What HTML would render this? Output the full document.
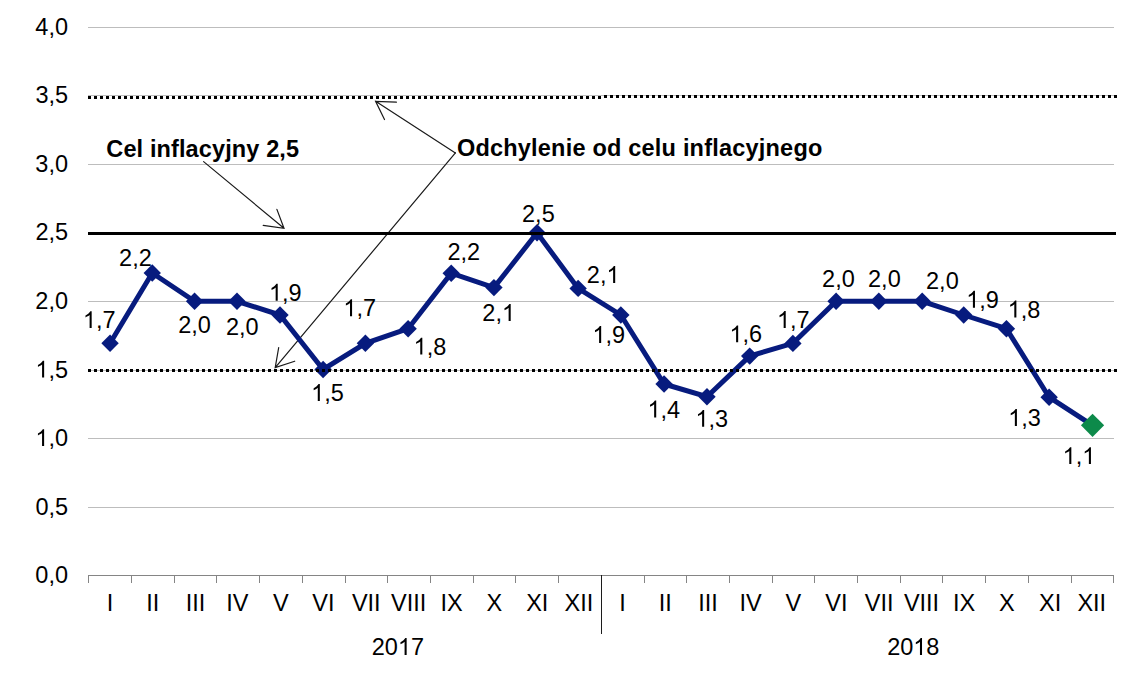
<!DOCTYPE html><html><head><meta charset="utf-8"><title>Chart</title>
<style>html,body{margin:0;padding:0;background:#fff;}body{width:1136px;height:675px;overflow:hidden;}svg{display:block;}text{font-family:"Liberation Sans",sans-serif;fill:#000;}</style></head><body>
<svg width="1136" height="675" viewBox="0 0 1136 675">
<rect width="1136" height="675" fill="#fff"/>
<g fill="#bdbdbd" shape-rendering="crispEdges">
<rect x="88" y="27" width="1026" height="1"/>
<rect x="88" y="95" width="1026" height="1"/>
<rect x="88" y="164" width="1026" height="1"/>
<rect x="88" y="301" width="1026" height="1"/>
<rect x="88" y="370" width="1026" height="1"/>
<rect x="88" y="438" width="1026" height="1"/>
<rect x="88" y="507" width="1026" height="1"/>
</g>
<g fill="#858585" shape-rendering="crispEdges">
<rect x="88" y="575" width="1026" height="1"/>
<rect x="88" y="575" width="1" height="8"/>
<rect x="131" y="575" width="1" height="8"/>
<rect x="174" y="575" width="1" height="8"/>
<rect x="216" y="575" width="1" height="8"/>
<rect x="259" y="575" width="1" height="8"/>
<rect x="302" y="575" width="1" height="8"/>
<rect x="345" y="575" width="1" height="8"/>
<rect x="387" y="575" width="1" height="8"/>
<rect x="430" y="575" width="1" height="8"/>
<rect x="473" y="575" width="1" height="8"/>
<rect x="515" y="575" width="1" height="8"/>
<rect x="558" y="575" width="1" height="8"/>
<rect x="644" y="575" width="1" height="8"/>
<rect x="686" y="575" width="1" height="8"/>
<rect x="729" y="575" width="1" height="8"/>
<rect x="772" y="575" width="1" height="8"/>
<rect x="814" y="575" width="1" height="8"/>
<rect x="857" y="575" width="1" height="8"/>
<rect x="900" y="575" width="1" height="8"/>
<rect x="942" y="575" width="1" height="8"/>
<rect x="985" y="575" width="1" height="8"/>
<rect x="1028" y="575" width="1" height="8"/>
<rect x="1071" y="575" width="1" height="8"/>
<rect x="1113" y="575" width="1" height="8"/>
</g>
<rect x="601" y="575" width="1" height="58.6" fill="#1c1c1c" shape-rendering="crispEdges"/>
<g stroke="#1a1a1a" stroke-width="1.2" fill="none" stroke-linecap="round" stroke-linejoin="miter">
<path d="M203.6 161.6 L284 228.3 M276.9 209.4 L284 228.3 L263.2 225.4"/>
<path d="M455.4 152.9 L375.6 101.3 M396.4 102.2 L375.6 101.3 L384.5 119.5"/>
<path d="M455.4 152.9 L275.2 367.6 M278.7 347.5 L275.2 367.6 L294.7 361.2"/>
</g>
<polyline points="110.05,343.30 152.26,273.00 194.57,301.30 236.98,301.30 279.99,315.00 323.10,369.50 365.40,343.30 408.11,328.70 451.22,273.20 493.93,287.60 537.04,232.80 578.15,288.40 620.85,315.00 664.06,384.00 706.97,396.70 749.68,356.10 792.89,343.40 836.10,301.30 878.80,301.30 922.21,301.30 963.72,315.00 1006.43,328.70 1049.14,397.20 1092.55,425.30" fill="none" stroke="#071b7e" stroke-width="5" stroke-linejoin="miter" stroke-linecap="butt"/>
<path d="M110.05 334.60 L118.75 343.30 L110.05 352.00 L101.35 343.30Z" fill="#071b7e"/>
<path d="M152.26 264.30 L160.96 273.00 L152.26 281.70 L143.56 273.00Z" fill="#071b7e"/>
<path d="M194.57 292.60 L203.27 301.30 L194.57 310.00 L185.87 301.30Z" fill="#071b7e"/>
<path d="M236.98 292.60 L245.68 301.30 L236.98 310.00 L228.28 301.30Z" fill="#071b7e"/>
<path d="M279.99 306.30 L288.69 315.00 L279.99 323.70 L271.29 315.00Z" fill="#071b7e"/>
<path d="M323.10 360.80 L331.80 369.50 L323.10 378.20 L314.40 369.50Z" fill="#071b7e"/>
<path d="M365.40 334.60 L374.10 343.30 L365.40 352.00 L356.70 343.30Z" fill="#071b7e"/>
<path d="M408.11 320.00 L416.81 328.70 L408.11 337.40 L399.41 328.70Z" fill="#071b7e"/>
<path d="M451.22 264.50 L459.92 273.20 L451.22 281.90 L442.52 273.20Z" fill="#071b7e"/>
<path d="M493.93 278.90 L502.63 287.60 L493.93 296.30 L485.23 287.60Z" fill="#071b7e"/>
<path d="M537.04 224.10 L545.74 232.80 L537.04 241.50 L528.34 232.80Z" fill="#071b7e"/>
<path d="M578.15 279.70 L586.85 288.40 L578.15 297.10 L569.45 288.40Z" fill="#071b7e"/>
<path d="M620.85 306.30 L629.55 315.00 L620.85 323.70 L612.15 315.00Z" fill="#071b7e"/>
<path d="M664.06 375.30 L672.76 384.00 L664.06 392.70 L655.36 384.00Z" fill="#071b7e"/>
<path d="M706.97 388.00 L715.67 396.70 L706.97 405.40 L698.27 396.70Z" fill="#071b7e"/>
<path d="M749.68 347.40 L758.38 356.10 L749.68 364.80 L740.98 356.10Z" fill="#071b7e"/>
<path d="M792.89 334.70 L801.59 343.40 L792.89 352.10 L784.19 343.40Z" fill="#071b7e"/>
<path d="M836.10 292.60 L844.80 301.30 L836.10 310.00 L827.40 301.30Z" fill="#071b7e"/>
<path d="M878.80 292.60 L887.50 301.30 L878.80 310.00 L870.10 301.30Z" fill="#071b7e"/>
<path d="M922.21 292.60 L930.91 301.30 L922.21 310.00 L913.51 301.30Z" fill="#071b7e"/>
<path d="M963.72 306.30 L972.42 315.00 L963.72 323.70 L955.02 315.00Z" fill="#071b7e"/>
<path d="M1006.43 320.00 L1015.13 328.70 L1006.43 337.40 L997.73 328.70Z" fill="#071b7e"/>
<path d="M1049.14 388.50 L1057.84 397.20 L1049.14 405.90 L1040.44 397.20Z" fill="#071b7e"/>
<path d="M1092.55 413.70 L1104.15 425.30 L1092.55 436.90 L1080.95 425.30Z" fill="#0d8a4a"/>
<g shape-rendering="crispEdges" stroke="#000" stroke-width="3" fill="none">
<line x1="88" y1="97.5" x2="604" y2="97.5" stroke-dasharray="3 3"/>
<line x1="604" y1="96.5" x2="1117" y2="96.5" stroke-dasharray="3 3"/>
<line x1="88" y1="370.5" x2="1117" y2="370.5" stroke-dasharray="3 3"/>
<line x1="88" y1="233.5" x2="1116" y2="233.5"/>
</g>
<g font-size="23.5">
<path transform="translate(82.92 328.10) scale(0.01147 -0.01147)" d="M763 0L583 0L583 1147Q518 1085 412.5 1023Q307 961 223 930L223 1104Q374 1175 487 1276Q600 1377 647 1472L763 1472Z"/><text x="95.99" y="328.10">,7</text>
<text x="119.11" y="266.00">2,2</text>
<text x="178.20" y="332.70">2,0</text>
<text x="226.00" y="334.70">2,0</text>
<path transform="translate(268.97 300.70) scale(0.01147 -0.01147)" d="M763 0L583 0L583 1147Q518 1085 412.5 1023Q307 961 223 930L223 1104Q374 1175 487 1276Q600 1377 647 1472L763 1472Z"/><text x="282.04" y="300.70">,9</text>
<path transform="translate(311.09 401.00) scale(0.01147 -0.01147)" d="M763 0L583 0L583 1147Q518 1085 412.5 1023Q307 961 223 930L223 1104Q374 1175 487 1276Q600 1377 647 1472L763 1472Z"/><text x="324.16" y="401.00">,5</text>
<path transform="translate(343.32 316.20) scale(0.01147 -0.01147)" d="M763 0L583 0L583 1147Q518 1085 412.5 1023Q307 961 223 930L223 1104Q374 1175 487 1276Q600 1377 647 1472L763 1472Z"/><text x="356.39" y="316.20">,7</text>
<path transform="translate(413.57 354.60) scale(0.01147 -0.01147)" d="M763 0L583 0L583 1147Q518 1085 412.5 1023Q307 961 223 930L223 1104Q374 1175 487 1276Q600 1377 647 1472L763 1472Z"/><text x="426.64" y="354.60">,8</text>
<text x="447.46" y="259.80">2,2</text>
<text x="482.34" y="320.90">2,</text><path transform="translate(501.94 320.90) scale(0.01147 -0.01147)" d="M763 0L583 0L583 1147Q518 1085 412.5 1023Q307 961 223 930L223 1104Q374 1175 487 1276Q600 1377 647 1472L763 1472Z"/>
<text x="522.06" y="222.10">2,5</text>
<text x="586.84" y="282.90">2,</text><path transform="translate(606.44 282.90) scale(0.01147 -0.01147)" d="M763 0L583 0L583 1147Q518 1085 412.5 1023Q307 961 223 930L223 1104Q374 1175 487 1276Q600 1377 647 1472L763 1472Z"/>
<path transform="translate(592.42 342.90) scale(0.01147 -0.01147)" d="M763 0L583 0L583 1147Q518 1085 412.5 1023Q307 961 223 930L223 1104Q374 1175 487 1276Q600 1377 647 1472L763 1472Z"/><text x="605.49" y="342.90">,9</text>
<path transform="translate(647.46 417.50) scale(0.01147 -0.01147)" d="M763 0L583 0L583 1147Q518 1085 412.5 1023Q307 961 223 930L223 1104Q374 1175 487 1276Q600 1377 647 1472L763 1472Z"/><text x="660.53" y="417.50">,4</text>
<path transform="translate(695.42 426.80) scale(0.01147 -0.01147)" d="M763 0L583 0L583 1147Q518 1085 412.5 1023Q307 961 223 930L223 1104Q374 1175 487 1276Q600 1377 647 1472L763 1472Z"/><text x="708.49" y="426.80">,3</text>
<path transform="translate(729.42 342.30) scale(0.01147 -0.01147)" d="M763 0L583 0L583 1147Q518 1085 412.5 1023Q307 961 223 930L223 1104Q374 1175 487 1276Q600 1377 647 1472L763 1472Z"/><text x="742.49" y="342.30">,6</text>
<path transform="translate(776.97 327.90) scale(0.01147 -0.01147)" d="M763 0L583 0L583 1147Q518 1085 412.5 1023Q307 961 223 930L223 1104Q374 1175 487 1276Q600 1377 647 1472L763 1472Z"/><text x="790.04" y="327.90">,7</text>
<text x="822.10" y="286.60">2,0</text>
<text x="868.05" y="286.60">2,0</text>
<text x="926.05" y="289.40">2,0</text>
<path transform="translate(966.22 307.70) scale(0.01147 -0.01147)" d="M763 0L583 0L583 1147Q518 1085 412.5 1023Q307 961 223 930L223 1104Q374 1175 487 1276Q600 1377 647 1472L763 1472Z"/><text x="979.29" y="307.70">,9</text>
<path transform="translate(1007.62 317.50) scale(0.01147 -0.01147)" d="M763 0L583 0L583 1147Q518 1085 412.5 1023Q307 961 223 930L223 1104Q374 1175 487 1276Q600 1377 647 1472L763 1472Z"/><text x="1020.69" y="317.50">,8</text>
<path transform="translate(1008.17 425.90) scale(0.01147 -0.01147)" d="M763 0L583 0L583 1147Q518 1085 412.5 1023Q307 961 223 930L223 1104Q374 1175 487 1276Q600 1377 647 1472L763 1472Z"/><text x="1021.24" y="425.90">,3</text>
<path transform="translate(1062.59 464.10) scale(0.01147 -0.01147)" d="M763 0L583 0L583 1147Q518 1085 412.5 1023Q307 961 223 930L223 1104Q374 1175 487 1276Q600 1377 647 1472L763 1472Z"/><text x="1075.66" y="464.10">,</text><path transform="translate(1082.19 464.10) scale(0.01147 -0.01147)" d="M763 0L583 0L583 1147Q518 1085 412.5 1023Q307 961 223 930L223 1104Q374 1175 487 1276Q600 1377 647 1472L763 1472Z"/>
</g>
<g font-size="23.5">
<text x="35.37" y="583.10">0,0</text>
<text x="35.39" y="514.60">0,5</text>
<path transform="translate(35.37 446.10) scale(0.01147 -0.01147)" d="M763 0L583 0L583 1147Q518 1085 412.5 1023Q307 961 223 930L223 1104Q374 1175 487 1276Q600 1377 647 1472L763 1472Z"/><text x="48.44" y="446.10">,0</text>
<path transform="translate(35.39 377.60) scale(0.01147 -0.01147)" d="M763 0L583 0L583 1147Q518 1085 412.5 1023Q307 961 223 930L223 1104Q374 1175 487 1276Q600 1377 647 1472L763 1472Z"/><text x="48.46" y="377.60">,5</text>
<text x="35.37" y="309.10">2,0</text>
<text x="35.39" y="239.90">2,5</text>
<text x="35.37" y="172.10">3,0</text>
<text x="35.39" y="102.60">3,5</text>
<text x="35.37" y="35.10">4,0</text>
</g>
<g font-size="23.5">
<text x="106.87" y="610.8">I</text>
<text x="146.24" y="610.8">II</text>
<text x="185.79" y="610.8">III</text>
<text x="226.18" y="610.8">IV</text>
<text x="272.90" y="610.8">V</text>
<text x="312.28" y="610.8">VI</text>
<text x="351.90" y="610.8">VII</text>
<text x="391.00" y="610.8">VIII</text>
<text x="440.46" y="610.8">IX</text>
<text x="486.45" y="610.8">X</text>
<text x="526.16" y="610.8">XI</text>
<text x="564.48" y="610.8">XII</text>
<text x="619.37" y="610.8">I</text>
<text x="658.74" y="610.8">II</text>
<text x="698.29" y="610.8">III</text>
<text x="739.58" y="610.8">IV</text>
<text x="785.40" y="610.8">V</text>
<text x="825.28" y="610.8">VI</text>
<text x="864.80" y="610.8">VII</text>
<text x="903.90" y="610.8">VIII</text>
<text x="952.96" y="610.8">IX</text>
<text x="998.95" y="610.8">X</text>
<text x="1039.06" y="610.8">XI</text>
<text x="1077.38" y="610.8">XII</text>
<text x="371.77" y="654.90">20</text><path transform="translate(397.90 654.90) scale(0.01147 -0.01147)" d="M763 0L583 0L583 1147Q518 1085 412.5 1023Q307 961 223 930L223 1104Q374 1175 487 1276Q600 1377 647 1472L763 1472Z"/><text x="410.97" y="654.90">7</text><text x="887.13" y="654.90">20</text><path transform="translate(913.27 654.90) scale(0.01147 -0.01147)" d="M763 0L583 0L583 1147Q518 1085 412.5 1023Q307 961 223 930L223 1104Q374 1175 487 1276Q600 1377 647 1472L763 1472Z"/><text x="926.34" y="654.90">8</text>
</g>
<g font-size="23.5" font-weight="bold">
<text x="106.3" y="156.8" letter-spacing="0.12">Cel inflacyjny 2,5</text>
<text x="456.9" y="156.2" letter-spacing="0.21">Odchylenie od celu inflacyjnego</text>
</g>
</svg></body></html>
